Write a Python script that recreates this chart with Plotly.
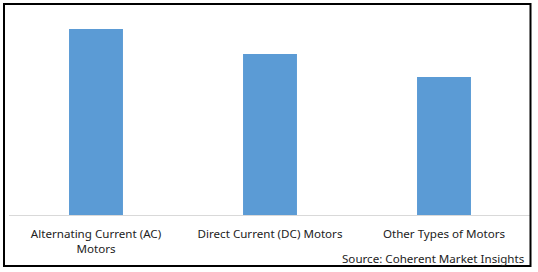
import plotly.graph_objects as go

categories = ["Alternating Current (AC)<br>Motors", "Direct Current (DC) Motors", "Other Types of Motors"]
values = [37.2, 32.2, 27.6]
source_text = "Source: Coherent Market Insights"

W, H = 538, 272
ml, mr, mt, mb = 9, 7, 15, 57
pw = W - ml - mr
ph = H - mt - mb
FONT = "Noto Sans"
FS = 11.6

def px(x):
    return (x - ml) / pw

def py(y):
    return (H - mb - y) / ph

fig = go.Figure()
fig.add_trace(go.Bar(x=categories, y=values, marker=dict(color="#5B9BD5", line=dict(width=0)),
                     width=0.31, hoverinfo="skip"))

fig.update_layout(
    width=W, height=H,
    margin=dict(l=ml, r=mr, t=mt, b=mb),
    paper_bgcolor="white", plot_bgcolor="white",
    showlegend=False,
    font=dict(family=FONT, size=FS, color="#222222"),
    xaxis=dict(showline=True, linecolor="#d9d9d9", linewidth=1, showgrid=False,
               ticks="", ticklabelstandoff=8,
               tickfont=dict(family=FONT, size=FS, color="#222222"), fixedrange=True),
    yaxis=dict(range=[0, 40], visible=False, fixedrange=True),
    shapes=[dict(type="rect", xref="paper", yref="paper",
                 x0=px(4), x1=px(530.5), y0=py(266), y1=py(4),
                 line=dict(color="black", width=2), fillcolor="rgba(0,0,0,0)")],
    annotations=[dict(text=source_text, xref="paper", yref="paper",
                      x=px(527), y=py(258.5), xanchor="right", yanchor="middle",
                      showarrow=False, font=dict(family=FONT, size=FS, color="#222222"))],
)

fig.write_html("out.html")
